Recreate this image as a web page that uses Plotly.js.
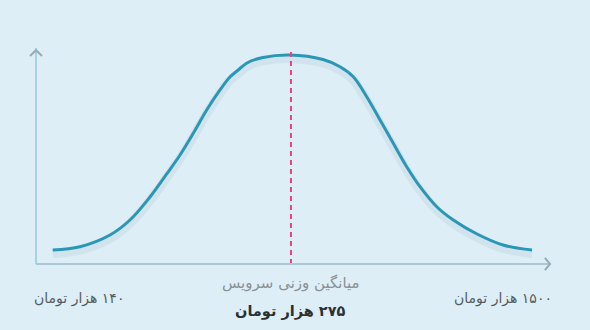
<!DOCTYPE html>
<html>
<head>
<meta charset="utf-8">
<script src="https://cdn.plot.ly/plotly-3.0.1.min.js"></script>
<style>html,body{margin:0;padding:0;background:#ddeef6;}#chart{width:590px;height:330px;}</style>
</head>
<body>
<div id="chart"></div>
<script>
// Curve values (x: 0-100 along the axis, y: 0-100 relative height)
const curveX = [3.25, 8.56, 14.40, 18.29, 22.18, 25.43, 28.02, 30.60, 33.21, 35.80, 37.74, 39.36, 41.05, 44.16, 49.42, 55.84, 59.14, 61.73, 64.34, 66.93, 69.51, 72.12, 74.71, 77.96, 81.19, 85.80, 90.86, 96.50];
const curveY = [6.48, 8.01, 13.43, 20.37, 31.02, 41.67, 50.46, 60.51, 71.30, 80.56, 86.57, 89.81, 93.06, 95.60, 96.76, 94.68, 91.34, 86.71, 77.45, 66.67, 55.88, 45.05, 35.79, 26.53, 20.37, 13.89, 8.80, 6.48];
const meanX = 49.6;
const minLabel = "۱۴۰ هزار تومان";
const maxLabel = "۱۵۰۰ هزار تومان";
const meanTitle = "میانگین وزنی سرویس";
const meanLabel = "۲۷۵ هزار تومان";

const rtl = s => '\u202B' + s + '\u202C';
const font = "DejaVu Sans, Noto Sans, sans-serif";
const traces = [
  {x: curveX, y: curveY.map(v => v - 1.6), mode: 'lines', line: {color: 'rgba(60,90,110,0.07)', width: 9, shape: 'spline', smoothing: 1}, hoverinfo: 'skip'},
  {x: curveX, y: curveY, mode: 'lines', line: {color: '#2b97b6', width: 3, shape: 'spline', smoothing: 1}, hoverinfo: 'skip'},
  {x: [meanX, meanX], y: [0, 98.5], mode: 'lines', line: {color: '#e3457c', width: 2, dash: '5px,4px'}, hoverinfo: 'skip'}
];
const layout = {
  width: 590, height: 330,
  margin: {l: 36, r: 40, t: 48, b: 66},
  paper_bgcolor: '#ddeef6', plot_bgcolor: 'rgba(0,0,0,0)',
  showlegend: false,
  xaxis: {range: [0, 100], showgrid: false, zeroline: false, showticklabels: false, ticks: '', fixedrange: true},
  yaxis: {range: [0, 100], showgrid: false, zeroline: false, showticklabels: false, ticks: '', fixedrange: true},
  shapes: [
    {type: 'line', xref: 'paper', yref: 'paper', x0: 0, y0: 0, x1: 0, y1: 1, line: {color: '#a6d3e0', width: 2}},
    {type: 'line', xref: 'paper', yref: 'paper', x0: 0, y0: 0, x1: 1, y1: 0, line: {color: '#a9c8d8', width: 2}},
    {type: 'path', xref: 'paper', yref: 'paper', path: 'M -0.0117,0.963 L 0,0.99 L 0.0117,0.963', line: {color: '#9aaab2', width: 2}},
    {type: 'path', xref: 'paper', yref: 'paper', path: 'M 0.99,0.028 L 1.0,0 L 0.99,-0.028', line: {color: '#9aaab2', width: 2}}
  ],
  annotations: [
    {xref: 'paper', yref: 'paper', x: (79 - 36) / 514, y: (264 - 298) / 216, text: rtl(minLabel), showarrow: false, xanchor: 'center', yanchor: 'middle', font: {family: font, size: 14, color: '#555c60'}},
    {xref: 'paper', yref: 'paper', x: (503 - 36) / 514, y: (264 - 298) / 216, text: rtl(maxLabel), showarrow: false, xanchor: 'center', yanchor: 'middle', font: {family: font, size: 14, color: '#555c60'}},
    {xref: 'x', yref: 'paper', x: meanX, y: (264 - 283) / 216, text: rtl(meanTitle), showarrow: false, xanchor: 'center', yanchor: 'middle', font: {family: font, size: 15, color: '#8a9095'}},
    {xref: 'x', yref: 'paper', x: meanX, y: (264 - 311) / 216, text: '<b>' + rtl(meanLabel) + '</b>', showarrow: false, xanchor: 'center', yanchor: 'middle', font: {family: font, size: 14.5, color: '#2c3033'}}
  ]
};
Plotly.newPlot('chart', traces, layout, {displayModeBar: false, staticPlot: true});
</script>
</body>
</html>
